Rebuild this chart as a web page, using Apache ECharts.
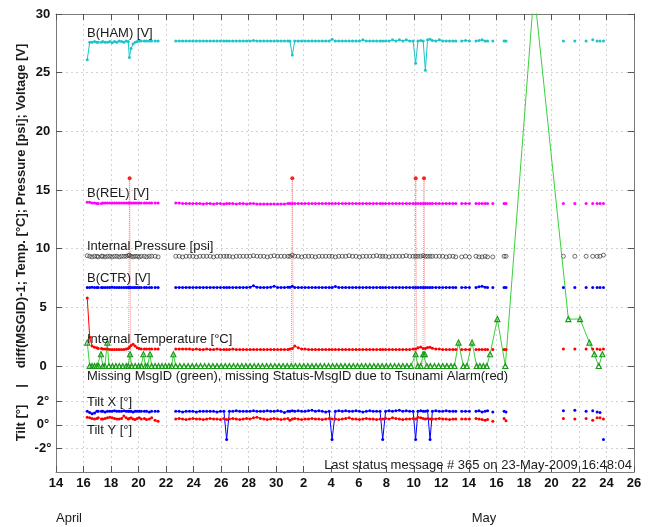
<!DOCTYPE html>
<html>
<head>
<meta charset="utf-8">
<script src="https://cdn.jsdelivr.net/npm/echarts@6/dist/echarts.min.js"></script>
<style>
  html, body { margin: 0; padding: 0; background: #ffffff; }
  #chart { width: 654px; height: 527px; }
</style>
</head>
<body>
<div id="chart"></div>
<script>
// Day numbers: April d -> d, May d -> 30 + d.  null = break in the record.
const msgDays = [
  16.27, 16.45, 16.62, 16.8, 16.97, 17.07, null, 17.3, 17.4, null,
  17.57, 17.74, 17.91, 18.08, 18.25, 18.42, 18.59, 18.76, 18.93, 19.1,
  19.25, 19.33, 19.45, 19.6, 19.75, 19.9, 20.05, 20.2, null, 20.42,
  20.58, null, 20.78, 20.95, null, 21.2, 21.42, null,
  22.7, 22.95, 23.2, 23.45, 23.7, 23.95, 24.2, 24.45, 24.7, 24.95,
  25.2, 25.45, 25.7, 25.95, 26.2, 26.4, 26.6, 26.85, 27.1, 27.35,
  27.6, 27.85, 28.1, 28.35, 28.6, 28.85, 29.1, 29.35, 29.6, 29.85,
  30.1, 30.35, 30.6, 30.85, 31.0, 31.17, 31.35, 31.6, 31.85, 32.1,
  32.35, 32.6, 32.85, 33.1, 33.35, 33.6, 33.85, 34.06, 34.3, 34.55,
  34.8, 35.05, 35.3, 35.55, 35.8, 36.05, 36.3, 36.55, 36.8, 37.05,
  37.3, 37.55, 37.74, 37.95, 38.2, 38.45, 38.7, 38.95, 39.2, 39.45,
  39.7, 39.95, 40.13, 40.3, 40.5, 40.68, 40.84, 41.0, 41.18, 41.35,
  41.6, 41.85, 42.1, 42.35, 42.6, 42.85, 43.05, null,
  43.48, 43.76, 44.04, null, 44.52, 44.74, 44.96, 45.18, 45.36, null,
  45.74, null, 46.56, 46.7, null, 50.87, null, 51.7, null, 52.52,
  null, 53.0, null, 53.32, null, 53.53, null, 53.78
];

const batteryHam = [
  26.1, 27.6, 27.6, 27.65, 27.6, 27.6, null, 27.6, 27.65, null,
  27.6, 27.6, 27.65, 27.55, 27.65, 27.6, 27.7, 27.65, 27.6, 27.7,
  27.65, 26.3, 27.05, 27.45, 27.6, 27.65, 27.7, 27.7, null, 27.7,
  27.7, null, 27.7, 27.7, null, 27.7, 27.7, null,
  27.7, 27.7, 27.7, 27.7, 27.7, 27.7, 27.7, 27.7, 27.7, 27.7,
  27.7, 27.7, 27.7, 27.7, 27.7, 27.7, 27.7, 27.7, 27.7, 27.7,
  27.7, 27.7, 27.7, 27.75, 27.7, 27.7, 27.7, 27.7, 27.7, 27.7,
  27.7, 27.7, 27.7, 27.7, 27.7, 26.5, 27.7, 27.7, 27.7, 27.7,
  27.7, 27.7, 27.7, 27.7, 27.7, 27.7, 27.7, 27.85, 27.7, 27.7,
  27.7, 27.7, 27.7, 27.7, 27.7, 27.7, 27.8, 27.7, 27.7, 27.7,
  27.7, 27.7, 27.7, 27.7, 27.7, 27.8, 27.7, 27.8, 27.7, 27.8,
  27.7, 27.7, 25.8, 27.7, 27.75, 27.7, 25.2, 27.8, 27.85, 27.75,
  27.7, 27.8, 27.7, 27.7, 27.7, 27.7, 27.7, null,
  27.7, 27.75, 27.7, null, 27.7, 27.75, 27.8, 27.7, 27.7, null,
  27.7, null, 27.7, 27.7, null, 27.7, null, 27.7, null, 27.7,
  null, 27.8, null, 27.7, null, 27.7, null, 27.7
];

const batteryRel = [
  13.95, 13.95, 13.9, 13.9, 13.85, 13.85, null, 13.85, 13.9, null,
  13.9, 13.9, 13.9, 13.9, 13.9, 13.9, 13.9, 13.9, 13.9, 13.9,
  13.9, 13.9, 13.9, 13.9, 13.9, 13.9, 13.9, 13.9, null, 13.9,
  13.9, null, 13.9, 13.9, null, 13.9, 13.9, null,
  13.9, 13.9, 13.85, 13.85, 13.85, 13.85, 13.85, 13.85, 13.8, 13.85,
  13.85, 13.8, 13.85, 13.85, 13.8, 13.85, 13.85, 13.85, 13.8, 13.85,
  13.85, 13.8, 13.85, 13.85, 13.8, 13.8, 13.8, 13.8, 13.8, 13.8,
  13.8, 13.8, 13.8, 13.85, 13.85, 13.85, 13.85, 13.85, 13.85, 13.85,
  13.85, 13.85, 13.85, 13.85, 13.85, 13.85, 13.85, 13.85, 13.85, 13.85,
  13.85, 13.85, 13.85, 13.85, 13.85, 13.85, 13.85, 13.85, 13.85, 13.85,
  13.85, 13.85, 13.85, 13.85, 13.85, 13.85, 13.85, 13.85, 13.85, 13.85,
  13.85, 13.85, 13.85, 13.85, 13.85, 13.85, 13.85, 13.85, 13.85, 13.85,
  13.85, 13.85, 13.85, 13.85, 13.85, 13.85, 13.85, null,
  13.85, 13.85, 13.85, null, 13.85, 13.85, 13.85, 13.85, 13.85, null,
  13.85, null, 13.85, 13.85, null, 13.85, null, 13.85, null, 13.85,
  null, 13.85, null, 13.85, null, 13.85, null, 13.85
];

const pressure = [
  9.4, 9.35, 9.3, 9.35, 9.35, 9.3, null, 9.35, 9.35, null,
  9.3, 9.35, 9.35, 9.3, 9.35, 9.35, 9.3, 9.35, 9.35, 9.35,
  9.4, 9.45, 9.35, 9.3, 9.35, 9.35, 9.3, 9.35, null, 9.35,
  9.3, null, 9.35, 9.35, null, 9.35, 9.3, null,
  9.35, 9.35, 9.3, 9.35, 9.35, 9.35, 9.3, 9.35, 9.35, 9.35,
  9.35, 9.3, 9.35, 9.35, 9.35, 9.35, 9.35, 9.3, 9.35, 9.35,
  9.35, 9.35, 9.35, 9.4, 9.35, 9.35, 9.35, 9.3, 9.35, 9.4,
  9.35, 9.35, 9.35, 9.35, 9.35, 9.45, 9.35, 9.35, 9.3, 9.35,
  9.35, 9.35, 9.3, 9.35, 9.35, 9.35, 9.35, 9.35, 9.3, 9.35,
  9.35, 9.35, 9.4, 9.35, 9.35, 9.3, 9.35, 9.35, 9.35, 9.35,
  9.4, 9.35, 9.35, 9.35, 9.3, 9.35, 9.35, 9.35, 9.35, 9.4,
  9.35, 9.35, 9.35, 9.35, 9.35, 9.4, 9.35, 9.35, 9.35, 9.35,
  9.35, 9.35, 9.35, 9.3, 9.35, 9.35, 9.3, null,
  9.3, 9.35, 9.3, null, 9.35, 9.3, 9.3, 9.35, 9.3, null,
  9.3, null, 9.35, 9.35, null, 9.35, null, 9.35, null, 9.35,
  null, 9.35, null, 9.35, null, 9.35, null, 9.45
];

const batteryCtr = [
  6.7, 6.7, 6.72, 6.68, 6.7, 6.7, null, 6.7, 6.7, null,
  6.7, 6.7, 6.7, 6.72, 6.7, 6.7, 6.7, 6.7, 6.7, 6.7,
  6.7, 6.7, 6.7, 6.7, 6.7, 6.7, 6.7, 6.7, null, 6.7,
  6.7, null, 6.7, 6.7, null, 6.7, 6.7, null,
  6.7, 6.7, 6.7, 6.7, 6.7, 6.7, 6.7, 6.7, 6.7, 6.7,
  6.7, 6.7, 6.7, 6.7, 6.7, 6.7, 6.7, 6.7, 6.7, 6.7,
  6.7, 6.7, 6.72, 6.85, 6.72, 6.7, 6.7, 6.7, 6.72, 6.8,
  6.7, 6.7, 6.7, 6.72, 6.72, 6.8, 6.7, 6.7, 6.7, 6.7,
  6.7, 6.7, 6.7, 6.7, 6.7, 6.7, 6.7, 6.7, 6.78, 6.7,
  6.7, 6.7, 6.7, 6.7, 6.7, 6.7, 6.7, 6.7, 6.7, 6.7,
  6.7, 6.7, 6.7, 6.7, 6.7, 6.7, 6.7, 6.7, 6.7, 6.7,
  6.7, 6.7, 6.7, 6.7, 6.7, 6.7, 6.7, 6.7, 6.7, 6.7,
  6.7, 6.7, 6.7, 6.7, 6.7, 6.7, 6.7, null,
  6.7, 6.7, 6.7, null, 6.7, 6.75, 6.8, 6.72, 6.7, null,
  6.7, null, 6.7, 6.7, null, 6.7, null, 6.7, null, 6.7,
  null, 6.7, null, 6.7, null, 6.7, null, 6.7
];

const temperature = [
  5.8, 2.45, 1.7, 1.6, 1.55, 1.5, null, 1.5, 1.45, null,
  1.45, 1.45, 1.4, 1.4, 1.4, 1.4, 1.4, 1.4, 1.4, 1.45,
  1.5, 1.6, 1.75, 1.85, 1.7, 1.55, 1.5, 1.45, null, 1.45,
  1.45, null, 1.45, 1.45, null, 1.45, 1.45, null,
  1.45, 1.45, 1.45, 1.45, 1.45, 1.4, 1.45, 1.4, 1.4, 1.45,
  1.4, 1.4, 1.45, 1.4, 1.4, 1.4, 1.4, 1.45, 1.4, 1.4,
  1.4, 1.4, 1.4, 1.4, 1.4, 1.4, 1.4, 1.4, 1.4, 1.4,
  1.4, 1.4, 1.4, 1.4, 1.45, 1.5, 1.7, 1.55, 1.45, 1.45,
  1.4, 1.4, 1.4, 1.4, 1.4, 1.4, 1.4, 1.4, 1.4, 1.4,
  1.4, 1.4, 1.4, 1.4, 1.4, 1.4, 1.4, 1.4, 1.4, 1.4,
  1.4, 1.4, 1.4, 1.4, 1.4, 1.4, 1.4, 1.4, 1.4, 1.4,
  1.4, 1.45, 1.45, 1.55, 1.62, 1.5, 1.5, 1.58, 1.6, 1.52,
  1.45, 1.45, 1.4, 1.4, 1.4, 1.4, 1.4, null,
  1.4, 1.4, 1.4, null, 1.4, 1.4, 1.4, 1.4, 1.4, null,
  1.4, null, 1.4, 1.4, null, 1.45, null, 1.45, null, 1.45,
  null, 1.45, null, 1.45, null, 1.4, null, 1.45
];

const tiltX = [
  1.15, 1.05, 0.95, 1.0, 1.15, 1.15, null, 1.15, 1.15, null,
  1.1, 1.15, 1.15, 1.15, 1.2, 1.15, 1.15, 1.15, 1.2, 1.15,
  1.15, 1.15, 1.15, 1.1, 1.15, 1.15, 1.15, 1.15, null, 1.15,
  1.15, null, 1.1, 1.15, null, 1.15, 1.15, null,
  1.15, 1.15, 1.1, 1.15, 1.15, 1.15, 1.1, 1.15, 1.15, 1.15,
  1.15, 1.15, 1.1, 1.15, 1.15, -1.25, 1.15, 1.15, 1.2, 1.15,
  1.15, 1.15, 1.15, 1.2, 1.15, 1.15, 1.15, 1.2, 1.15, 1.15,
  1.2, 1.15, 1.05, 1.15, 1.15, 1.2, 1.15, 1.2, 1.15, 1.15,
  1.2, 1.25, 1.15, 1.2, 1.15, 1.1, 1.15, -1.25, 1.15, 1.2,
  1.15, 1.2, 1.15, 1.15, 1.2, 1.15, 1.1, 1.15, 1.2, 1.15,
  1.15, 1.15, -1.25, 1.15, 1.2, 1.15, 1.2, 1.25, 1.15, 1.2,
  1.15, 1.15, -1.25, 1.15, 1.2, 1.15, 1.15, 1.2, -1.25, 1.15,
  1.2, 1.15, 1.15, 1.2, 1.15, 1.15, 1.15, null,
  1.15, 1.15, 1.15, null, 1.15, 1.2, 1.1, 1.15, 1.2, null,
  1.1, null, 1.15, 1.1, null, 1.2, null, 1.25, null, 1.15,
  null, 1.2, null, 1.1, null, 1.05, null, -1.25
];

const tiltY = [
  0.65, 0.6, 0.55, 0.5, 0.55, 0.6, null, 0.5, 0.5, null,
  0.55, 0.6, 0.65, 0.6, 0.55, 0.5, 0.5, 0.55, 0.75, 0.6,
  0.5, 0.55, 0.6, 0.5, 0.45, 0.55, 0.6, 0.5, null, 0.55,
  0.45, null, 0.5, 0.6, null, 0.4, 0.3, null,
  0.5, 0.55, 0.5, 0.45, 0.5, 0.55, 0.5, 0.5, 0.45, 0.5,
  0.55, 0.5, 0.5, 0.45, 0.55, 0.45, 0.5, 0.55, 0.5, 0.45,
  0.5, 0.55, 0.5, 0.6, 0.65, 0.55, 0.5, 0.45, 0.5, 0.55,
  0.5, 0.45, 0.5, 0.55, 0.4, 0.5, 0.55, 0.5, 0.45, 0.5,
  0.5, 0.55, 0.5, 0.5, 0.45, 0.5, 0.55, 0.5, 0.5, 0.45,
  0.5, 0.55, 0.6, 0.5, 0.5, 0.45, 0.5, 0.55, 0.5, 0.5,
  0.45, 0.5, 0.5, 0.55, 0.5, 0.6, 0.55, 0.5, 0.45, 0.5,
  0.5, 0.55, 0.5, 0.65, 0.6, 0.55, 0.5, 0.55, 0.5, 0.5,
  0.5, 0.55, 0.5, 0.5, 0.45, 0.5, 0.5, null,
  0.5, 0.5, 0.5, null, 0.55, 0.5, 0.45, 0.4, 0.45, null,
  0.3, null, 0.55, 0.35, null, 0.55, null, 0.5, null, 0.55,
  null, 0.4, null, 0.6, null, 0.6, null, 0.5
];

// diff(MSGID)-1 for every received message
const gapDays = [
  16.27, 16.45, 16.62, 16.8, 16.97, 17.1, 17.27, 17.4, 17.55, 17.73,
  17.85, 18.1, 18.35, 18.6, 18.85, 19.1, 19.25, 19.38, 19.5, 19.75,
  20.0, 20.2, 20.35, 20.5, 20.65, 20.83, 20.95, 21.2, 21.45, 21.7,
  21.95, 22.2, 22.4, 22.53, 22.7,
  23.0, 23.3, 23.6, 23.9, 24.2, 24.5, 24.8, 25.1, 25.4, 25.7,
  26.0, 26.3, 26.6, 26.9, 27.2, 27.5, 27.8, 28.1, 28.4, 28.7,
  29.0, 29.3, 29.6, 29.9, 30.2, 30.5, 30.8, 31.1, 31.4, 31.7,
  32.0, 32.3, 32.6, 32.9, 33.2, 33.5, 33.8, 34.1, 34.4, 34.7,
  35.0, 35.3, 35.6, 35.9, 36.2, 36.5, 36.8, 37.1, 37.4, 37.7,
  38.0, 38.3, 38.6, 38.9, 39.2, 39.5, 39.8,
  40.13, 40.3, 40.5, 40.68, 40.8, 40.95, 41.2, 41.5, 41.8, 42.1,
  42.4, 42.7, 42.95, 43.25, 43.6, 43.85, 44.23, 44.57, 44.8, 45.05,
  45.3, 45.54, 46.07, 46.65, 48.74, 51.23, 52.08, 52.76, 53.12, 53.44,
  53.7
];
const missingMsg = [
  2, 0, 0, 0, 0, 0, 1, 0, 0, 2,
  0, 0, 0, 0, 0, 0, 0, 1, 0, 0,
  0, 0, 1, 0, 0, 1, 0, 0, 0, 0,
  0, 0, 0, 1, 0,
  0, 0, 0, 0, 0, 0, 0, 0, 0, 0,
  0, 0, 0, 0, 0, 0, 0, 0, 0, 0,
  0, 0, 0, 0, 0, 0, 0, 0, 0, 0,
  0, 0, 0, 0, 0, 0, 0, 0, 0, 0,
  0, 0, 0, 0, 0, 0, 0, 0, 0, 0,
  0, 0, 0, 0, 0, 0, 0,
  1, 0, 0, 1, 1, 0, 0, 0, 0, 0,
  0, 0, 0, 2, 0, 0, 2, 0, 0, 0,
  0, 1, 4, 0, 32, 4, 4, 2, 1, 0,
  1
];

// Status messages lost during the tsunami alarms
const alarmDays = [19.27, 19.35, 19.43, null, 31.09, 31.17, 31.25, null,
                   40.06, 40.14, 40.22, null, 40.66, 40.74, 40.82];
const alarmMissing = [0, 16, 0, null, 0, 16, 0, null,
                      0, 16, 0, null, 0, 16, 0];

const xTicks = { min: 14, max: 56, step: 2 };      // 14 April .. 26 May
const monthNames = ['April', 'May'];

function pairs(days, values) {
  return days.map((d, i) =>
    (d == null || values[i] == null) ? ['-', '-'] : [d, values[i]]);
}

const FONT = "'Liberation Sans', Arial, Helvetica, sans-serif";
const GRID_LINE = { show: true, lineStyle: { color: '#d2d2d2', type: [2, 3], width: 1 } };
const FRAME = { show: true, onZero: false, lineStyle: { color: '#7a7a7a', width: 1 } };
const TICK = { show: true, inside: true, length: 6, lineStyle: { color: '#555', width: 1 } };
const TILT_TICKS = [-2, 0, 2];

function lineSeries(name, values, color, grid) {
  return {
    name, type: 'line',
    xAxisIndex: grid, yAxisIndex: grid === 0 ? 0 : 2,
    data: pairs(msgDays, values),
    symbol: 'circle', symbolSize: 3,
    lineStyle: { color, width: 1 },
    itemStyle: { color },
    connectNulls: false
  };
}

const chart = echarts.init(document.getElementById('chart'), null, { renderer: 'canvas' });

const label = (text, x, y, extra) => Object.assign({
  type: 'text', x, y, z: 100,
  style: Object.assign({
    text, fill: '#1a1a1a', font: '13px ' + FONT,
    align: 'left', verticalAlign: 'middle',
    textAlign: 'left', textVerticalAlign: 'middle'
  }, (extra && extra.style) || {})
}, extra ? { rotation: extra.rotation || 0 } : {});

chart.setOption({
  animation: false,
  backgroundColor: '#ffffff',
  grid: [
    { left: 56, right: 20, top: 14, height: 352 },
    { left: 56, right: 20, top: 366, height: 106 }
  ],
  xAxis: [
    {
      type: 'value', gridIndex: 0, position: 'top',
      min: xTicks.min, max: xTicks.max, interval: xTicks.step,
      axisLine: FRAME, axisTick: TICK, axisLabel: { show: false },
      splitLine: GRID_LINE
    },
    {
      type: 'value', gridIndex: 1, position: 'bottom',
      min: xTicks.min, max: xTicks.max, interval: xTicks.step,
      axisLine: FRAME, axisTick: TICK,
      axisLabel: {
        margin: 5, color: '#111', fontFamily: FONT, fontSize: 13, fontWeight: 'bold',
        formatter: v => String(v > 30 ? v - 30 : v)
      },
      splitLine: GRID_LINE
    }
  ],
  yAxis: [
    {
      type: 'value', gridIndex: 0, position: 'left',
      min: 0, max: 30, interval: 5,
      axisLine: FRAME, axisTick: TICK,
      axisLabel: { margin: 13, align: 'center', color: '#111', fontFamily: FONT, fontSize: 13, fontWeight: 'bold' },
      splitLine: GRID_LINE
    },
    {
      type: 'value', gridIndex: 0, position: 'right',
      min: 0, max: 30, interval: 5,
      axisLine: FRAME, axisTick: TICK, axisLabel: { show: false },
      splitLine: { show: false }
    },
    {
      type: 'value', gridIndex: 1, position: 'left',
      min: -4, max: 5,
      axisLine: FRAME,
      axisTick: Object.assign({ customValues: TILT_TICKS }, TICK),
      axisLabel: {
        customValues: TILT_TICKS, margin: 13, align: 'center',
        color: '#111', fontFamily: FONT, fontSize: 13, fontWeight: 'bold',
        formatter: v => v + '°'
      },
      splitLine: GRID_LINE
    },
    {
      type: 'value', gridIndex: 1, position: 'right',
      min: -4, max: 5,
      axisLine: FRAME,
      axisTick: Object.assign({ customValues: TILT_TICKS }, TICK),
      axisLabel: { show: false, customValues: TILT_TICKS },
      splitLine: { show: false }
    }
  ],
  series: [
    {
      name: 'Tsunami alarm', type: 'line', xAxisIndex: 0, yAxisIndex: 0,
      data: pairs(alarmDays, alarmMissing),
      symbol: 'circle',
      symbolSize: v => (v[1] > 0 ? 4 : 0),
      lineStyle: { color: '#ff8a8a', width: 1, type: 'dotted' },
      itemStyle: { color: '#ff2020' },
      z: 1
    },
    lineSeries('B(HAM) [V]', batteryHam, '#1cc4c8', 0),
    lineSeries('B(REL) [V]', batteryRel, '#ff00ff', 0),
    {
      name: 'Internal Pressure [psi]', type: 'scatter', xAxisIndex: 0, yAxisIndex: 0,
      data: pairs(msgDays, pressure),
      symbol: 'circle', symbolSize: 4,
      itemStyle: { color: 'rgba(0,0,0,0)', borderColor: '#222', borderWidth: 0.8 }
    },
    lineSeries('B(CTR) [V]', batteryCtr, '#0000ff', 0),
    lineSeries('Internal Temperature [°C]', temperature, '#ff0000', 0),
    {
      name: 'Missing MsgID', type: 'line', xAxisIndex: 0, yAxisIndex: 0,
      data: pairs(gapDays, missingMsg),
      symbol: 'triangle', symbolSize: 5,
      lineStyle: { color: '#3ccf3c', width: 1 },
      itemStyle: { color: 'rgba(0,0,0,0)', borderColor: '#189a18', borderWidth: 1.2 },
      z: 3
    },
    lineSeries('Tilt X [°]', tiltX, '#0000ff', 1),
    lineSeries('Tilt Y [°]', tiltY, '#ff0000', 1)
  ],
  graphic: [
    label('B(HAM) [V]', 87, 33),
    label('B(REL) [V]', 87, 193),
    label('Internal Pressure [psi]', 87, 246),
    label('B(CTR) [V]', 87, 278),
    label('Internal Temperature [°C]', 87, 339),
    label('Missing MsgID (green), missing Status-MsgID due to Tsunami Alarm(red)', 87, 376),
    label('Tilt X [°]', 87, 402),
    label('Tilt Y [°]', 87, 430),
    label('Last status message # 365 on 23-May-2009 16:48:04', 632, 465,
          { style: { align: 'right', textAlign: 'right' } }),
    label(monthNames[0], 69, 518, { style: { align: 'center', textAlign: 'center' } }),
    label(monthNames[1], 484, 518, { style: { align: 'center', textAlign: 'center' } }),
    label('diff(MSGID)-1; Temp. [°C]; Pressure [psi]; Voltage [V]', 21, 206,
          { rotation: Math.PI / 2, style: { align: 'center', textAlign: 'center', font: 'bold 13px ' + FONT } }),
    label('|', 21, 386,
          { rotation: Math.PI / 2, style: { align: 'center', textAlign: 'center', font: 'bold 13px ' + FONT } }),
    label('Tilt [°]', 21, 423,
          { rotation: Math.PI / 2, style: { align: 'center', textAlign: 'center', font: 'bold 13px ' + FONT } })
  ]
});
</script>
</body>
</html>
